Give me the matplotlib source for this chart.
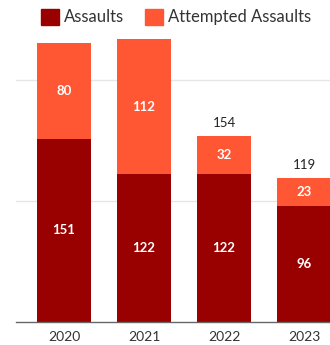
import matplotlib.pyplot as plt
from matplotlib.patches import Patch

# data
years = ["2020", "2021", "2022", "2023"]
assaults = [151, 122, 122, 96]
attempted = [80, 112, 32, 23]

DARK = "#990000"
ORANGE = "#ff5733"

plt.rcParams["font.family"] = ["Lato", "DejaVu Sans"]

fig = plt.figure(figsize=(3.30, 3.45), dpi=100)
ax = fig.add_axes([16 / 330, 23.5 / 345, 314 / 330, 301.5 / 345])

x = list(range(len(years)))
w = 0.675
ax.bar(x, assaults, width=w, color=DARK, zorder=2)
ax.bar(x, attempted, width=w, bottom=assaults, color=ORANGE, zorder=2)

for i in x:
    a, b = assaults[i], attempted[i]
    ax.text(i, a / 2, str(a), ha="center", va="center", color="white",
            fontsize=9.5, fontweight="bold", zorder=3)
    ax.text(i, a + b / 2, str(b), ha="center", va="center", color="white",
            fontsize=9.5, fontweight="bold", zorder=3)
    total = a + b
    if total < 200:
        ax.text(i, total + 6, str(total), ha="center", va="bottom",
                color="#222222", fontsize=9.5, zorder=3)

ax.set_xlim(-0.6, 3.325)
ax.set_ylim(0, 250)
ax.set_yticks([100, 200])
ax.yaxis.grid(True, color="#e6e6e6", linewidth=1, zorder=0)
ax.tick_params(axis="y", length=0, labelleft=False)
ax.set_xticks(x)
ax.set_xticklabels(years, fontsize=10, color="#333333")
ax.tick_params(axis="x", length=0, pad=7)
for s in ["top", "right", "left"]:
    ax.spines[s].set_visible(False)
ax.spines["bottom"].set_color("#666666")
ax.spines["bottom"].set_linewidth(1)

handles = [Patch(color=DARK, label="Assaults"),
           Patch(color=ORANGE, label="Attempted Assaults")]
fig.legend(handles=handles, loc="center", bbox_to_anchor=(176 / 330, 1 - 17 / 345),
           ncol=2, frameon=False, fontsize=12, handlelength=1.1, handleheight=1.1,
           handletextpad=0.3, columnspacing=1.2, labelcolor="#333333")

fig.savefig("out.png", dpi=100)
